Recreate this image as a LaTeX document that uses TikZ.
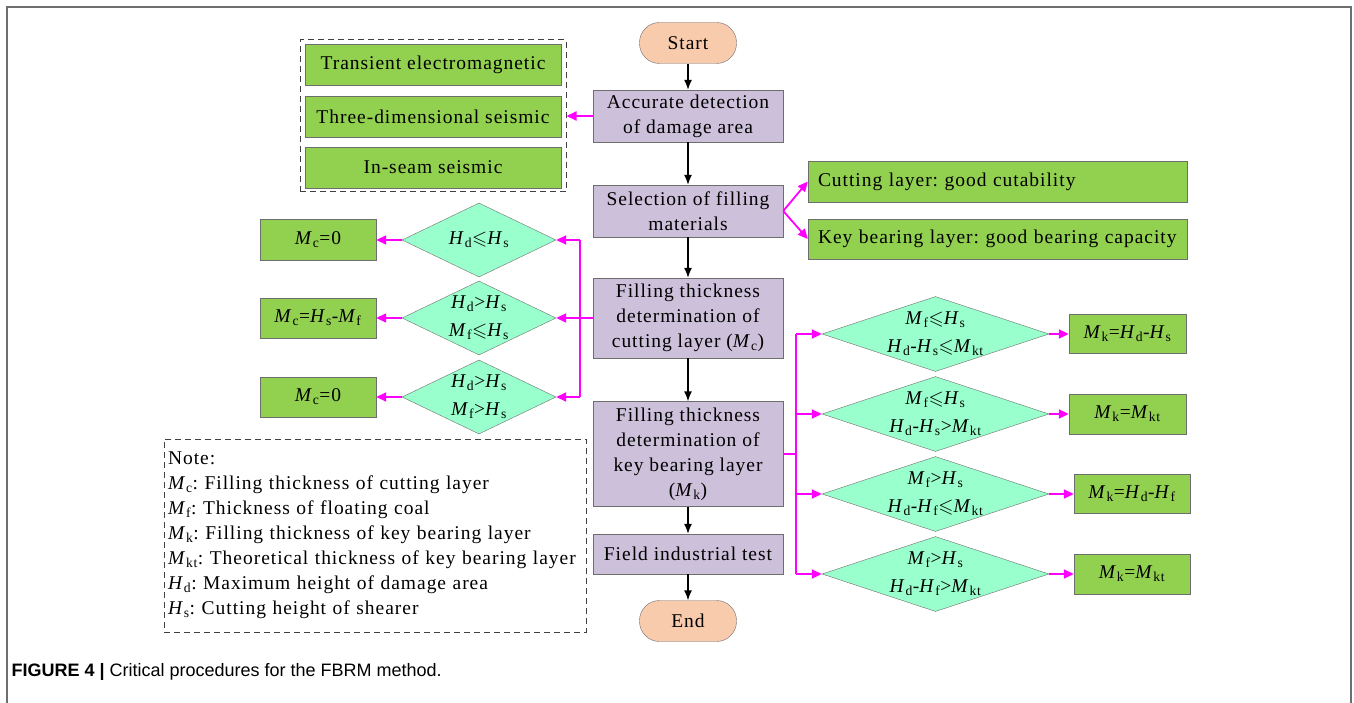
\documentclass[tikz,border=0pt]{standalone}
\usepackage{fontspec}
\usepackage{amssymb}
\usepackage{tikz}
\setmainfont{Liberation Serif}[LetterSpace=5]
\newfontfamily\capfont{Liberation Sans}
\usetikzlibrary{shapes.geometric}
\usetikzlibrary{arrows.meta}
\definecolor{boxgreen}{RGB}{146,208,80}
\definecolor{diamint}{RGB}{153,255,204}
\definecolor{proclav}{RGB}{204,192,218}
\definecolor{termpeach}{RGB}{248,203,173}
\definecolor{edgegray}{RGB}{110,110,110}
\definecolor{linkpink}{RGB}{255,0,255}
\newcommand{\vq}[2]{\textit{#1}\textsubscript{#2}}
\newcommand{\lsq}{\ensuremath{\leqslant}}
\frenchspacing

\begin{document}
\begin{tikzpicture}[x=1pt,y=-1pt,
  every node/.style={font=\fontsize{19.5}{25}\selectfont},
  proc/.style={draw=edgegray,fill=proclav,minimum width=190pt,align=center,inner sep=2pt},
  term/.style={draw=edgegray,fill=termpeach,rounded corners=20pt,minimum width=97pt,minimum height=41pt},
  res/.style={draw=edgegray,fill=boxgreen,align=center,inner sep=2pt},
  dia/.style={diamond,draw=edgegray,fill=diamint,inner sep=0pt},
  diatext/.style={align=center,font=\fontsize{19.5}{28}\selectfont},
  dashbox/.style={draw=black!75,line width=1pt,dash pattern=on 6pt off 4pt},
  flow/.style={draw=black,line width=1.4pt,-{Latex[length=10pt,width=8pt]}},
  mg/.style={draw=linkpink,line width=1.8pt,-{Triangle[length=10pt,width=9pt]}},
  mgline/.style={draw=linkpink,line width=2pt}]
\useasboundingbox (0,0) rectangle (1354,703);

%Shape: Frame
\draw[edgegray,line width=1.5pt] (7,703) -- (7,7) -- (1351,7) -- (1351,703);

%Shape: Main column
\node[term] (start) at (688,43) {Start};
\node[proc,minimum height=52pt] (acc) at (688,116) {Accurate detection\\of damage area};
\node[proc,minimum height=52pt] (sel) at (688,211) {Selection of filling\\materials};
\node[proc,minimum height=80pt] (cut) at (688,318) {Filling thickness\\determination of\\cutting layer (\vq{M}{c})};
\node[proc,minimum height=105pt] (key) at (688,454) {Filling thickness\\determination of\\key bearing layer\\(\vq{M}{k})};
\node[proc,minimum height=40pt] (test) at (688,554) {Field industrial test};
\node[term] (end) at (688,621) {End};

\draw[flow] (start) -- (acc);
\draw[flow] (acc) -- (sel);
\draw[flow] (sel) -- (cut);
\draw[flow] (cut) -- (key);
\draw[flow] (key) -- (test);
\draw[flow] (test) -- (end);

%Shape: Detection methods
\node[dashbox,minimum width=266pt,minimum height=152pt] (detgrp) at (433,116) {};
\node[res,minimum width=256pt,minimum height=41pt] (tem) at (433,64.5) {Transient electromagnetic};
\node[res,minimum width=256pt,minimum height=41pt] (tds) at (433,116.5) {Three-dimensional seismic};
\node[res,minimum width=256pt,minimum height=41pt] (iss) at (433,167.5) {In-seam seismic};
\draw[mg] (acc.west) -- (detgrp.east);

%Shape: Filling materials
\node[res,minimum width=379pt,minimum height=41pt,text width=359pt,align=left] (cutgood) at (997.5,181.5) {Cutting layer: good cutability};
\node[res,minimum width=379pt,minimum height=40pt,text width=359pt,align=left] (keygood) at (997.5,239) {Key bearing layer: good bearing capacity};
\draw[mg] (sel.east) -- (cutgood.west);
\draw[mg] (sel.east) -- (keygood.west);

%Shape: Cutting layer branch
\node[dia,minimum width=154pt,minimum height=74pt,label={[diatext]center:{\vq{H}{d}\lsq\vq{H}{s}}}] (dl1) at (479,240) {};
\node[dia,minimum width=154pt,minimum height=74pt,label={[diatext]center:{\vq{H}{d}>\vq{H}{s}\\\vq{M}{f}\lsq\vq{H}{s}}}] (dl2) at (479,318) {};
\node[dia,minimum width=154pt,minimum height=74pt,label={[diatext]center:{\vq{H}{d}>\vq{H}{s}\\\vq{M}{f}>\vq{H}{s}}}] (dl3) at (479,397) {};
\node[res,minimum width=116pt,minimum height=41pt] (rl1) at (318,240) {\vq{M}{c}=0};
\node[res,minimum width=116pt,minimum height=40pt] (rl2) at (318,318) {\vq{M}{c}=\vq{H}{s}-\vq{M}{f}};
\node[res,minimum width=116pt,minimum height=40pt] (rl3) at (318,397) {\vq{M}{c}=0};
\coordinate (jl) at (580,318);
\draw[mgline] (cut.west) -- (jl);
\draw[mgline] (jl |- dl1.east) -- (jl |- dl3.east);
\draw[mg] (jl |- dl1.east) -- (dl1.east);
\draw[mg] (jl) -- (dl2.east);
\draw[mg] (jl |- dl3.east) -- (dl3.east);
\draw[mg] (dl1.west) -- (rl1.east);
\draw[mg] (dl2.west) -- (rl2.east);
\draw[mg] (dl3.west) -- (rl3.east);

%Shape: Key bearing layer branch
\node[dia,minimum width=227pt,minimum height=75pt,label={[diatext]center:{\vq{M}{f}\lsq\vq{H}{s}\\\vq{H}{d}-\vq{H}{s}\lsq\vq{M}{kt}}}] (dr1) at (935.5,334) {};
\node[dia,minimum width=227pt,minimum height=75pt,label={[diatext]center:{\vq{M}{f}\lsq\vq{H}{s}\\\vq{H}{d}-\vq{H}{s}>\vq{M}{kt}}}] (dr2) at (935.5,414) {};
\node[dia,minimum width=227pt,minimum height=75pt,label={[diatext]center:{\vq{M}{f}>\vq{H}{s}\\\vq{H}{d}-\vq{H}{f}\lsq\vq{M}{kt}}}] (dr3) at (935.5,494) {};
\node[dia,minimum width=227pt,minimum height=75pt,label={[diatext]center:{\vq{M}{f}>\vq{H}{s}\\\vq{H}{d}-\vq{H}{f}>\vq{M}{kt}}}] (dr4) at (935.5,574) {};
\node[res,minimum width=117pt,minimum height=39pt] (rr1) at (1127.5,334) {\vq{M}{k}=\vq{H}{d}-\vq{H}{s}};
\node[res,minimum width=117pt,minimum height=40pt] (rr2) at (1127.5,414) {\vq{M}{k}=\vq{M}{kt}};
\node[res,minimum width=116pt,minimum height=39pt] (rr3) at (1132,494) {\vq{M}{k}=\vq{H}{d}-\vq{H}{f}};
\node[res,minimum width=116pt,minimum height=40pt] (rr4) at (1132,574) {\vq{M}{k}=\vq{M}{kt}};
\coordinate (jr) at (796,454);
\draw[mgline] (key.east) -- (jr);
\draw[mgline] (jr |- dr1.west) -- (jr |- dr4.west);
\draw[mg] (jr |- dr1.west) -- (dr1.west);
\draw[mg] (jr |- dr2.west) -- (dr2.west);
\draw[mg] (jr |- dr3.west) -- (dr3.west);
\draw[mg] (jr |- dr4.west) -- (dr4.west);
\draw[mg] (dr1.east) -- (rr1.west);
\draw[mg] (dr2.east) -- (rr2.west);
\draw[mg] (dr3.east) -- (rr3.west);
\draw[mg] (dr4.east) -- (rr4.west);

% Text Node
\node[dashbox,align=left,text width=414pt,minimum height=193pt,inner sep=4pt] (note) at (375,535.5) {Note:\\
\vq{M}{c}: Filling thickness of cutting layer\\
\vq{M}{f}: Thickness of floating coal\\
\vq{M}{k}: Filling thickness of key bearing layer\\
\vq{M}{kt}: Theoretical thickness of key bearing layer\\
\vq{H}{d}: Maximum height of damage area\\
\vq{H}{s}: Cutting height of shearer};

% Text Node
\node[anchor=west,font=\capfont\fontsize{18}{21}\selectfont] (cap) at (8,672) {\textbf{FIGURE 4 |} Critical procedures for the FBRM method.};

\end{tikzpicture}
\end{document}
